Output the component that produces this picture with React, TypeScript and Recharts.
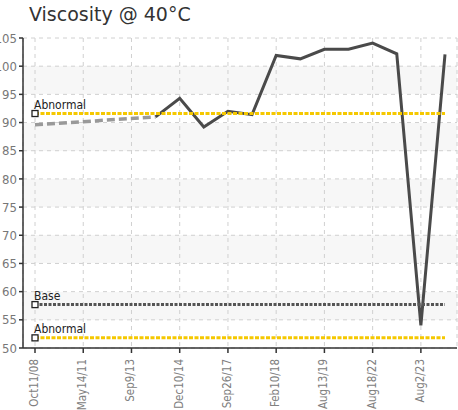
import React from 'react';
import { LineChart, Line, XAxis, YAxis, CartesianGrid } from 'recharts';

const xLabels = ['Oct11/08', '', 'May14/11', '', 'Sep9/13', '', 'Dec10/14', '', 'Sep26/17', '', 'Feb10/18', '', 'Aug13/19', '', 'Aug18/22', '', 'Aug2/23', ''];
const gapTrend: (number | null)[] = [89.6, null, null, null, null, 91.0, null, null, null, null, null, null, null, null, null, null, null, null];
const viscosity: (number | null)[] = [null, null, null, null, null, 91.0, 94.3, 89.2, 92.0, 91.4, 101.9, 101.3, 103.0, 103.0, 104.1, 102.2, 54.0, 102.1];
const upperAbnormal = 91.6;
const baseValue = 57.7;
const lowerAbnormal = 51.8;
const yTicks = [50, 55, 60, 65, 70, 75, 80, 85, 90, 95, 100, 105];

const data = xLabels.map((_, i) => ({
  i,
  gap: gapTrend[i],
  v: viscosity[i],
  hi: upperAbnormal,
  base: baseValue,
  lo: lowerAbnormal,
}));

const FONT = "'Liberation Sans Narrow', 'DejaVu Sans Condensed', sans-serif";

const makeLimitDot = (label: string) => (props: any) => {
  const { cx, cy, index } = props;
  if (index !== 0) return <g key={`d${label}${index}`} />;
  return (
    <g key={`d${label}${index}`}>
      <rect x={cx - 3} y={cy - 3} width={6} height={6} fill="#fff" stroke="#222" strokeWidth={1.3} />
      <text x={cx - 1} y={cy - 5} fontSize={12} fontFamily={FONT} fill="#222">{label}</text>
    </g>
  );
};

const XTick = (props: any) => {
  const { x, y, payload } = props;
  const label = xLabels[payload.value] ?? '';
  const ty = y + 3;
  const tx = x - 1;
  return (
    <text
      x={tx}
      y={ty}
      transform={`rotate(-90 ${tx} ${ty})`}
      textAnchor="end"
      dominantBaseline="central"
      fontSize={11.5}
      fontFamily={FONT}
      fill="#808080"
    >
      {label}
    </text>
  );
};

export default function App() {
  return (
    <div style={{ position: 'absolute', left: 0, top: 0, width: 458, height: 410, background: '#fff' }}>
      <div
        style={{
          position: 'absolute',
          left: 29,
          top: 2,
          fontFamily: "'DejaVu Sans', sans-serif",
          fontSize: 19,
          lineHeight: '24px',
          color: '#333',
          whiteSpace: 'nowrap',
        }}
      >
        Viscosity @ 40°C
      </div>
      <LineChart width={458} height={410} data={data} margin={{ top: 38, right: 1, bottom: 0, left: 0 }}>
        <CartesianGrid
          stroke="#d0d0d0"
          strokeDasharray="4 4"
          horizontalFill={['#ffffff', '#f7f7f7']}
          fillOpacity={1}
        />
        <XAxis
          dataKey="i"
          type="category"
          interval={1}
          height={62}
          padding={{ left: 12, right: 12 }}
          tick={<XTick />}
          tickSize={5}
          tickMargin={3}
          axisLine={{ stroke: '#333', strokeWidth: 1.5 }}
          tickLine={{ stroke: '#333', strokeWidth: 1.5 }}
        />
        <YAxis
          domain={[50, 105]}
          ticks={yTicks}
          width={23}
          tickSize={4}
          tickMargin={2}
          interval={0}
          tick={{ fontSize: 13, fontFamily: FONT, fill: '#777' }}
          axisLine={{ stroke: '#333', strokeWidth: 1.5 }}
          tickLine={{ stroke: '#333', strokeWidth: 1.5 }}
        />
        <Line
          dataKey="gap"
          connectNulls
          stroke="#999"
          strokeWidth={3.5}
          strokeDasharray="8 4"
          dot={false}
          isAnimationActive={false}
        />
        <Line
          dataKey="v"
          stroke="#4a4a4a"
          strokeWidth={3}
          dot={false}
          isAnimationActive={false}
        />
        <Line
          dataKey="base"
          stroke="#555"
          strokeWidth={3}
          strokeDasharray="3 1.5"
          dot={makeLimitDot('Base')}
          isAnimationActive={false}
        />
        <Line
          dataKey="hi"
          stroke="#f5c800"
          strokeWidth={3}
          strokeDasharray="4 1.5"
          dot={makeLimitDot('Abnormal')}
          isAnimationActive={false}
        />
        <Line
          dataKey="lo"
          stroke="#f5c800"
          strokeWidth={3}
          strokeDasharray="4 1.5"
          dot={makeLimitDot('Abnormal')}
          isAnimationActive={false}
        />
      </LineChart>
    </div>
  );
}
